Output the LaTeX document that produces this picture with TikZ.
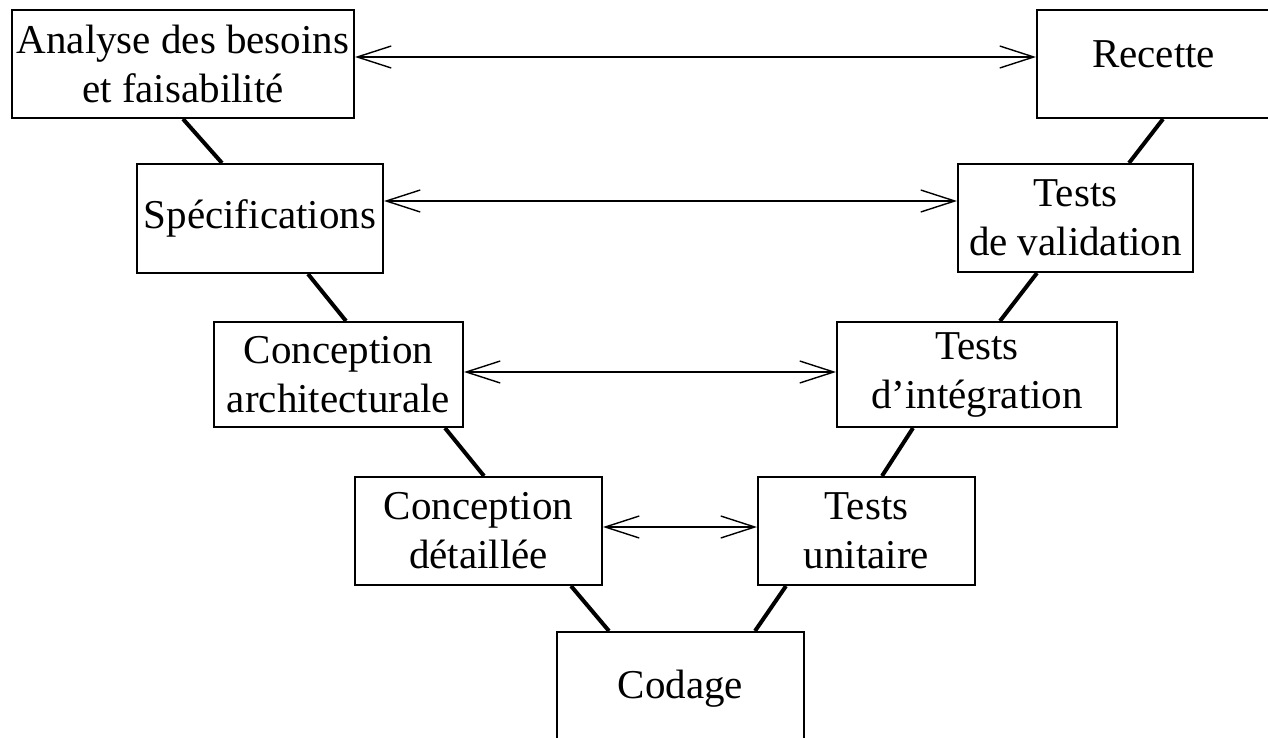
\documentclass[tikz,border=0pt]{standalone}
\usepackage{fontspec}
\setmainfont{Liberation Serif}
\usetikzlibrary{arrows.meta}
\begin{document}
\begin{tikzpicture}[x=1pt,y=-1pt,
  box/.style={draw, line width=2pt, inner sep=0pt, align=center,
    font=\fontsize{41}{49}\selectfont},
  vlink/.style={line width=4pt},
  barb/.tip={Straight Barb[length=34pt,width=22pt,line width=1.4pt]},
  biarrow/.style={line width=1.8pt, barb-barb}]
\useasboundingbox (0,0) rectangle (1268,738);
\fill[white] (0,0) rectangle (1268,738);
\clip (0,0) rectangle (1268,738);
% left branch
\node[box, minimum width=342pt, minimum height=108pt] (ab) at (183,64) {Analyse des besoins\\et faisabilité};
\node[box, minimum width=246pt, minimum height=109pt] (sp) at (260,218.5) {Spécifications};
\node[box, minimum width=249pt, minimum height=105pt] (ca) at (338.5,374.5) {Conception\\architecturale};
\node[box, minimum width=247pt, minimum height=108pt] (cd) at (478.5,531) {Conception\\détaillée};
% bottom
\node[box, minimum width=247pt, minimum height=113pt] (co) at (680.5,688.5) {Codage};
% right branch
\node[box, minimum width=233pt, minimum height=108pt, text depth=19pt] (re) at (1153.5,64) {Recette};
\node[box, minimum width=235pt, minimum height=108pt] (tv) at (1075.5,218) {Tests\\de validation};
\node[box, minimum width=280pt, minimum height=105pt] (ti) at (977,374.5) {Tests\\d’intégration};
\node[box, minimum width=217pt, minimum height=108pt] (tu) at (866.5,531) {Tests\\unitaire};
% V connectors
\draw[vlink] (ab.south) -- ([xshift=-38pt]sp.north);
\draw[vlink] ([xshift=48pt]sp.south) -- ([xshift=7.5pt]ca.north);
\draw[vlink] ([xshift=106.5pt]ca.south) -- ([xshift=5.5pt]cd.north);
\draw[vlink] ([xshift=92.5pt]cd.south) -- ([xshift=-71.5pt]co.north);
\draw[vlink] ([xshift=9.5pt]re.south) -- ([xshift=53.5pt]tv.north);
\draw[vlink] ([xshift=-38.5pt]tv.south) -- ([xshift=23pt]ti.north);
\draw[vlink] ([xshift=-64pt]ti.south) -- ([xshift=15.5pt]tu.north);
\draw[vlink] ([xshift=-80.5pt]tu.south) -- ([xshift=74.5pt]co.north);
% horizontal double arrows
\draw[biarrow] ([yshift=7pt]ab.east) -- ([yshift=7pt]re.west);
\draw[biarrow] ([yshift=17.5pt]sp.east) -- ([yshift=17pt]tv.west);
\draw[biarrow] ([yshift=2.5pt]ca.east) -- ([yshift=2.5pt]ti.west);
\draw[biarrow] ([yshift=4pt]cd.east) -- ([yshift=4pt]tu.west);
\end{tikzpicture}
\end{document}
